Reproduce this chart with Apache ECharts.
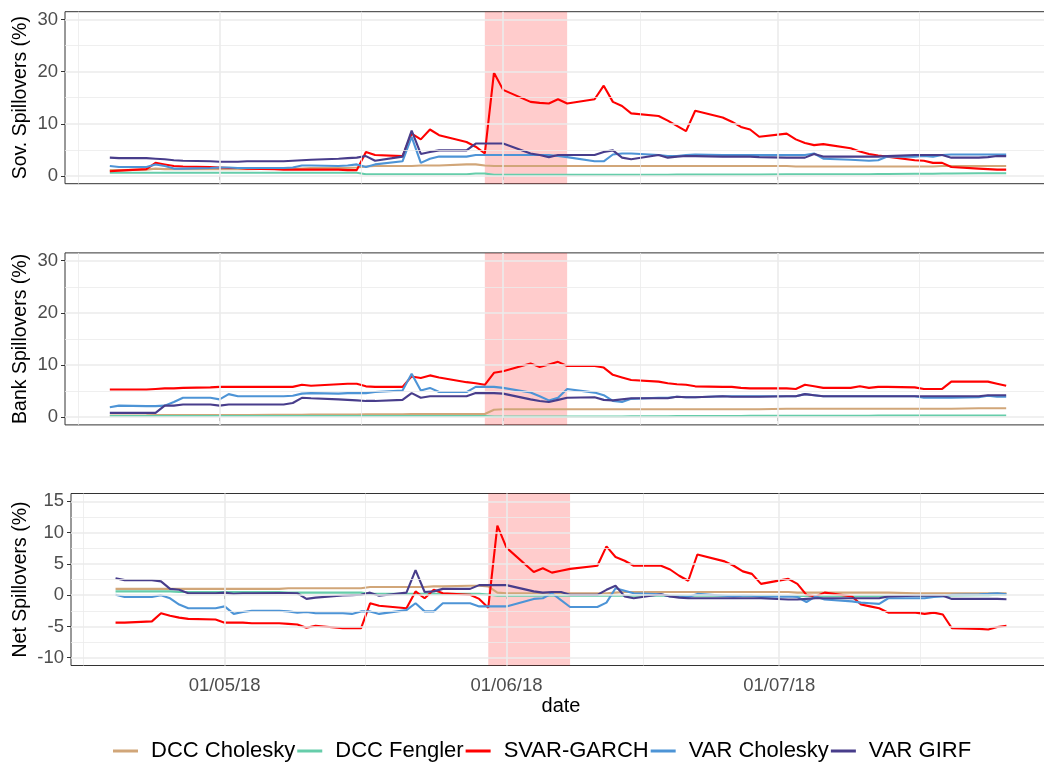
<!DOCTYPE html>
<html>
<head>
<meta charset="utf-8">
<title>Spillovers</title>
<script src="https://cdn.jsdelivr.net/npm/echarts@6/dist/echarts.min.js"></script>
<style>
  html, body { margin: 0; padding: 0; background: #fff; overflow: hidden; }
  #chart { width: 1044px; height: 762px; }
</style>
</head>
<body>
<div id="chart"></div>
<script>
// trading days of the sample
const dates = [
  '2018-04-19', '2018-04-20', '2018-04-23', '2018-04-24', '2018-04-25', '2018-04-26', '2018-04-27', '2018-04-30', '2018-05-01', '2018-05-02',
  '2018-05-03', '2018-05-04', '2018-05-07', '2018-05-08', '2018-05-09', '2018-05-10', '2018-05-11', '2018-05-14', '2018-05-15', '2018-05-16',
  '2018-05-17', '2018-05-18', '2018-05-21', '2018-05-22', '2018-05-23', '2018-05-24', '2018-05-25', '2018-05-28', '2018-05-29', '2018-05-30',
  '2018-05-31', '2018-06-01', '2018-06-04', '2018-06-05', '2018-06-06', '2018-06-07', '2018-06-08', '2018-06-11', '2018-06-12', '2018-06-13',
  '2018-06-14', '2018-06-15', '2018-06-18', '2018-06-19', '2018-06-20', '2018-06-21', '2018-06-22', '2018-06-25', '2018-06-26', '2018-06-27',
  '2018-06-28', '2018-06-29', '2018-07-02', '2018-07-03', '2018-07-04', '2018-07-05', '2018-07-06', '2018-07-09', '2018-07-10', '2018-07-11',
  '2018-07-12', '2018-07-13', '2018-07-16', '2018-07-17', '2018-07-18', '2018-07-19', '2018-07-20', '2018-07-23', '2018-07-24', '2018-07-25',
  '2018-07-26'
]

const methods = ['DCC Cholesky', 'DCC Fengler', 'SVAR-GARCH', 'VAR Cholesky', 'VAR GIRF']

// Sov. spillovers (%)
const sovDccCholesky = [
  1.1, 1.1, 1.2, 1.4, 1.3, 1.3, 1.3, 1.3, 1.3, 1.3,
  1.3, 1.3, 1.4, 1.4, 1.4, 1.4, 1.5, 1.5, 1.5, 1.6,
  1.8, 1.9, 1.9, 1.9, 2.0, 2.0, 2.0, 2.2, 2.2, 2.0,
  1.9, 1.9, 1.9, 1.9, 1.9, 1.9, 1.9, 1.9, 1.9, 1.9,
  1.9, 1.9, 1.9, 1.9, 1.9, 1.9, 1.9, 1.9, 1.9, 1.9,
  1.9, 1.9, 1.9, 1.8, 1.8, 1.8, 1.8, 1.8, 1.8, 1.8,
  1.8, 1.8, 1.8, 1.8, 1.8, 1.9, 1.9, 1.9, 1.9, 1.9, 1.9
]
const sovDccFengler = [
  0.6, 0.6, 0.6, 0.6, 0.6, 0.6, 0.6, 0.6, 0.6, 0.6,
  0.6, 0.6, 0.6, 0.6, 0.6, 0.6, 0.6, 0.6, 0.6, 0.6,
  0.3, 0.3, 0.3, 0.3, 0.3, 0.3, 0.3, 0.3, 0.45, 0.45,
  0.2, 0.2, 0.2, 0.2, 0.2, 0.2, 0.2, 0.2, 0.2, 0.2,
  0.2, 0.2, 0.2, 0.2, 0.25, 0.25, 0.25, 0.25, 0.25, 0.25,
  0.25, 0.25, 0.3, 0.3, 0.3, 0.3, 0.3, 0.3, 0.3, 0.3,
  0.35, 0.35, 0.4, 0.4, 0.4, 0.45, 0.45, 0.5, 0.5, 0.5, 0.5
]
const sovSvarGarch = [
  0.9, 1.0, 1.3, 2.5, 2.2, 1.9, 1.8, 1.7, 1.6, 1.5,
  1.5, 1.4, 1.3, 1.2, 1.2, 1.2, 1.2, 1.2, 1.1, 1.1,
  4.6, 4.0, 3.8, 8.1, 7.0, 8.9, 7.8, 6.5, 5.6, 4.3,
  19.8, 16.5, 14.2, 14.0, 13.9, 14.7, 13.9, 14.7, 17.3, 14.2,
  13.4, 12.0, 11.5, 10.6, 9.6, 8.6, 12.5, 11.2, 10.4, 9.4,
  8.9, 7.5, 8.1, 7.0, 6.3, 5.9, 6.1, 5.3, 4.7, 4.2,
  3.9, 3.7, 3.0, 2.9, 2.5, 2.5, 1.7, 1.4, 1.3, 1.2, 1.2
]
const sovVarCholesky = [
  1.9, 1.7, 1.7, 2.2, 1.9, 1.4, 1.4, 1.5, 1.6, 1.6,
  1.5, 1.5, 1.5, 1.5, 1.6, 2.0, 2.0, 1.9, 2.0, 2.2,
  1.7, 2.2, 2.8, 7.5, 2.5, 3.3, 3.7, 3.7, 4.0, 4.0,
  4.0, 4.0, 4.0, 4.0, 4.0, 3.8, 3.6, 2.8, 2.8, 4.1,
  4.3, 4.3, 4.0, 3.8, 3.8, 4.0, 4.1, 4.0, 4.0, 4.0,
  4.0, 4.0, 4.0, 4.0, 4.0, 4.3, 3.3, 3.1, 3.0, 2.9,
  3.0, 3.7, 3.7, 3.8, 3.7, 4.0, 4.1, 4.1, 4.1, 4.1, 4.1
]
const sovVarGirf = [
  3.5, 3.4, 3.4, 3.3, 3.2, 3.0, 2.9, 2.8, 2.7, 2.7,
  2.7, 2.8, 2.8, 2.8, 2.9, 3.0, 3.1, 3.3, 3.4, 3.5,
  3.8, 2.9, 3.7, 8.7, 4.2, 4.6, 4.9, 4.9, 6.2, 6.2,
  6.2, 6.2, 4.3, 4.0, 3.6, 4.0, 4.0, 4.0, 4.6, 4.9,
  3.5, 3.2, 4.0, 3.5, 3.7, 3.8, 3.8, 3.7, 3.7, 3.7,
  3.7, 3.6, 3.5, 3.5, 3.5, 4.2, 3.7, 3.7, 3.7, 3.7,
  3.7, 3.8, 4.0, 4.0, 4.0, 4.0, 3.5, 3.5, 3.6, 3.8, 3.8
]

// Bank spillovers (%)
const bankDccCholesky = [
  0.3, 0.3, 0.35, 0.4, 0.4, 0.4, 0.4, 0.4, 0.4, 0.4,
  0.4, 0.4, 0.45, 0.45, 0.45, 0.45, 0.5, 0.5, 0.5, 0.5,
  0.55, 0.55, 0.55, 0.6, 0.6, 0.6, 0.6, 0.6, 0.6, 0.6,
  1.4, 1.5, 1.5, 1.5, 1.5, 1.5, 1.5, 1.5, 1.5, 1.5,
  1.5, 1.5, 1.5, 1.5, 1.5, 1.5, 1.5, 1.5, 1.5, 1.5,
  1.5, 1.5, 1.6, 1.6, 1.6, 1.6, 1.6, 1.6, 1.6, 1.6,
  1.6, 1.6, 1.6, 1.6, 1.6, 1.6, 1.6, 1.7, 1.7, 1.7, 1.7
]
const bankDccFengler = [
  0.2, 0.2, 0.2, 0.2, 0.2, 0.2, 0.2, 0.2, 0.2, 0.2,
  0.2, 0.2, 0.2, 0.2, 0.2, 0.2, 0.2, 0.2, 0.2, 0.2,
  0.2, 0.2, 0.2, 0.2, 0.2, 0.2, 0.2, 0.2, 0.2, 0.2,
  0.1, 0.1, 0.1, 0.1, 0.1, 0.1, 0.1, 0.1, 0.1, 0.1,
  0.1, 0.15, 0.15, 0.15, 0.2, 0.2, 0.2, 0.2, 0.2, 0.2,
  0.25, 0.25, 0.25, 0.25, 0.25, 0.25, 0.25, 0.25, 0.25, 0.25,
  0.3, 0.3, 0.3, 0.3, 0.3, 0.3, 0.3, 0.3, 0.3, 0.3, 0.3
]
const bankSvarGarch = [
  5.3, 5.3, 5.3, 5.4, 5.5, 5.5, 5.6, 5.7, 5.8, 5.8,
  5.8, 5.8, 5.8, 5.8, 5.8, 6.2, 6.0, 6.3, 6.4, 6.4,
  5.9, 5.8, 5.8, 7.8, 7.5, 8.0, 7.6, 6.7, 6.5, 6.2,
  8.5, 8.8, 10.3, 9.6, 10.1, 10.6, 9.8, 9.8, 9.5, 8.1,
  7.6, 7.1, 6.8, 6.5, 6.3, 6.2, 5.9, 5.8, 5.8, 5.6,
  5.5, 5.5, 5.5, 5.4, 6.2, 5.9, 5.6, 5.6, 5.9, 5.6,
  5.8, 5.8, 5.7, 5.4, 5.4, 5.4, 6.8, 6.8, 6.8, 6.4, 6.0
]
const bankVarCholesky = [
  1.9, 2.2, 2.1, 2.1, 2.2, 2.9, 3.7, 3.7, 3.4, 4.4,
  4.0, 4.0, 4.0, 4.0, 4.1, 4.5, 4.6, 4.5, 4.6, 4.6,
  4.6, 4.8, 5.1, 8.3, 5.1, 5.6, 4.8, 4.8, 5.8, 5.8,
  5.8, 5.6, 4.7, 4.0, 3.2, 3.7, 5.4, 4.7, 4.2, 3.1,
  2.9, 3.5, 3.7, 3.7, 3.9, 3.8, 3.8, 4.0, 4.0, 4.0,
  4.0, 4.0, 4.0, 4.0, 4.4, 4.2, 4.0, 4.0, 4.0, 4.0,
  4.0, 4.0, 4.0, 3.7, 3.7, 3.7, 3.7, 3.8, 4.1, 3.9, 3.9
]
const bankVarGirf = [
  0.8, 0.8, 0.8, 0.8, 2.2, 2.2, 2.4, 2.4, 2.2, 2.4,
  2.4, 2.4, 2.4, 2.4, 2.7, 3.7, 3.6, 3.4, 3.3, 3.2,
  3.1, 3.1, 3.3, 4.6, 3.7, 4.0, 4.0, 4.0, 4.6, 4.6,
  4.6, 4.5, 3.4, 3.1, 2.9, 3.3, 3.7, 3.8, 3.3, 3.2,
  3.4, 3.6, 3.6, 3.6, 3.9, 3.8, 3.8, 4.0, 3.9, 3.9,
  3.9, 3.9, 4.0, 4.0, 4.4, 4.2, 4.0, 4.0, 4.0, 4.0,
  4.0, 4.0, 4.0, 4.0, 4.0, 4.0, 4.0, 4.0, 4.2, 4.2, 4.2
]

// Net spillovers (%)
const netDccCholesky = [
  1.0, 1.0, 1.0, 1.0, 1.0, 1.0, 1.0, 1.0, 1.0, 1.0,
  1.0, 1.0, 1.0, 1.1, 1.1, 1.1, 1.1, 1.1, 1.1, 1.1,
  1.3, 1.3, 1.3, 1.3, 1.3, 1.4, 1.4, 1.5, 1.5, 1.4,
  0.4, 0.3, 0.3, 0.3, 0.3, 0.3, 0.3, 0.3, 0.3, 0.4,
  0.5, 0.5, 0.5, 0.5, 0.5, 0.5, 0.5, 0.5, 0.5, 0.5,
  0.5, 0.5, 0.5, 0.4, 0.4, 0.4, 0.4, 0.4, 0.4, 0.4,
  0.4, 0.4, 0.3, 0.3, 0.3, 0.3, 0.3, 0.3, 0.3, 0.3, 0.3
]
const netDccFengler = [
  0.6, 0.6, 0.6, 0.6, 0.6, 0.5, 0.5, 0.5, 0.5, 0.5,
  0.5, 0.5, 0.5, 0.4, 0.4, 0.4, 0.4, 0.4, 0.4, 0.4,
  0.2, 0.2, 0.2, 0.2, 0.2, 0.2, 0.2, 0.2, 0.2, 0.1,
  -0.1, -0.1, -0.1, -0.1, -0.1, -0.1, -0.1, -0.1, -0.1, -0.1,
  -0.1, -0.1, -0.1, -0.1, -0.1, -0.1, -0.1, -0.1, -0.1, -0.1,
  -0.15, -0.15, -0.15, -0.15, -0.15, -0.15, -0.15, -0.15, -0.15, -0.15,
  -0.15, -0.15, -0.1, -0.1, -0.1, -0.1, -0.05, 0.0, 0.0, 0.05, 0.05
]
const netSvarGarch = [
  -4.4, -4.4, -4.2, -2.9, -3.3, -3.6, -3.8, -3.9, -4.4, -4.4,
  -4.4, -4.5, -4.5, -4.6, -4.7, -5.2, -4.9, -5.3, -5.3, -5.3,
  -1.3, -1.7, -2.1, 0.6, -0.5, 0.85, 0.3, 0.05, -0.6, -2.0,
  11.1, 7.6, 3.7, 4.3, 3.6, 3.9, 4.2, 4.7, 7.8, 6.1,
  5.5, 4.7, 4.7, 4.1, 3.1, 2.3, 6.5, 5.4, 4.7, 3.8,
  3.4, 1.8, 2.6, 1.8, 0.05, -0.2, 0.4, -0.2, -1.5, -1.8,
  -2.1, -2.8, -2.8, -3.0, -2.8, -3.1, -5.3, -5.4, -5.5, -5.1, -4.9
]
const netVarCholesky = [
  0.05, -0.3, -0.3, 0.0, -0.5, -1.5, -2.1, -2.1, -1.8, -3.0,
  -2.7, -2.5, -2.5, -2.6, -2.8, -2.7, -2.9, -2.9, -3.0, -2.6,
  -2.6, -3.0, -2.4, -1.3, -2.6, -2.6, -1.3, -1.3, -1.8, -1.8,
  -1.8, -1.8, -0.6, -0.5, 0.3, -0.8, -1.9, -1.9, -1.2, 1.1,
  0.7, 0.3, 0.15, -0.2, -0.2, -0.3, 0.2, -0.1, -0.2, -0.1,
  -0.1, -0.3, -0.2, -0.3, -1.1, -0.2, -0.7, -1.0, -1.2, -1.3,
  -1.4, -0.5, -0.5, -0.5, -0.3, -0.2, 0.05, 0.15, 0.2, 0.3, 0.15
]
const netVarGirf = [
  2.7, 2.4, 2.4, 2.2, 1.0, 0.85, 0.3, 0.3, 0.4, 0.2,
  0.3, 0.3, 0.35, 0.35, 0.3, -0.6, -0.4, -0.05, 0.0, 0.05,
  0.4, -0.1, 0.4, 4.0, 0.5, 0.6, 1.0, 1.0, 1.6, 1.6,
  1.6, 1.6, 0.6, 0.4, 0.5, 0.5, 0.05, 0.05, 0.85, 1.5,
  -0.2, -0.5, 0.15, -0.2, -0.4, -0.5, -0.5, -0.5, -0.5, -0.5,
  -0.5, -0.5, -0.7, -0.7, -0.6, -0.5, -0.5, -0.5, -0.5, -0.5,
  -0.5, -0.2, -0.1, -0.1, -0.1, -0.1, -0.6, -0.6, -0.6, -0.6, -0.65
]

// shaded episode
const shadeFrom = '2018-05-30'
const shadeTo = '2018-06-08'

// axis breaks
const xMajorBreaks = ['2018-05-01', '2018-06-01', '2018-07-01']
const xMinorBreaks = [['2018-04-15', 12], ['2018-05-16', 12], ['2018-06-16', 0], ['2018-07-16', 12]]
const spillBreaks = [0, 10, 20, 30]
const spillMinor = [5, 15, 25]
const netBreaks = [-10, -5, 0, 5, 10, 15]
const netMinor = [-7.5, -2.5, 2.5, 7.5, 12.5]

const colors = ['#D1A679', '#66CDAA', '#FF0000', '#4D94D6', '#483D8B']
const fontFamily = 'Liberation Sans, Arial, sans-serif'

function day(s, h = 0) {
  const [y, m, d] = s.split('-').map(Number)
  return Date.UTC(y, m - 1, d, h)
}

function fmtDate(v) {
  const d = new Date(v)
  const p = n => String(n).padStart(2, '0')
  return p(d.getUTCDate()) + '/' + p(d.getUTCMonth() + 1) + '/' + p(d.getUTCFullYear() % 100)
}

// ggplot-like 5% expansion of the date range
const firstDay = day(dates[0])
const lastDay = day(dates[dates.length - 1])
const xMin = firstDay - 0.05 * (lastDay - firstDay)
const xMax = lastDay + 0.05 * (lastDay - firstDay)

const panels = [
  {
    title: 'Sov. Spillovers (%)', left: 65, top: 11.7, width: 986, nameGap: 34,
    yMin: -1.5, yMax: 31.5, breaks: spillBreaks, minor: spillMinor,
    values: [sovDccCholesky, sovDccFengler, sovSvarGarch, sovVarCholesky, sovVarGirf]
  },
  {
    title: 'Bank Spillovers (%)', left: 65, top: 252.9, width: 986, nameGap: 34,
    yMin: -1.5, yMax: 31.5, breaks: spillBreaks, minor: spillMinor,
    values: [bankDccCholesky, bankDccFengler, bankSvarGarch, bankVarCholesky, bankVarGirf]
  },
  {
    title: 'Net Spillovers (%)', left: 71, top: 493.5, width: 980, nameGap: 40,
    yMin: -11.25, yMax: 16.25, breaks: netBreaks, minor: netMinor,
    values: [netDccCholesky, netDccFengler, netSvarGarch, netVarCholesky, netVarGirf]
  }
]

const grid = []
const xAxis = []
const yAxis = []
const series = []

const majorStyle = { color: '#EBEBEB', width: 1.6, type: 'solid' }
const minorStyle = { color: '#EBEBEB', width: 0.8, type: 'solid' }

panels.forEach((p, k) => {
  const isLast = k === panels.length - 1
  grid.push({
    left: p.left, top: p.top, width: p.width, height: 172,
    show: true, borderColor: '#333333', borderWidth: 1,
    outerBoundsMode: 'none'
  })
  xAxis.push({
    gridIndex: k,
    type: 'value',
    min: xMin,
    max: xMax,
    axisLine: { show: false },
    splitLine: { show: false },
    axisTick: {
      show: true, customValues: xMajorBreaks.map(d => day(d)), length: 4,
      lineStyle: { color: '#333333', width: 1 }
    },
    axisLabel: {
      show: isLast, customValues: xMajorBreaks.map(d => day(d)), formatter: fmtDate,
      color: '#4D4D4D', fontSize: 18.5, margin: 11, fontFamily
    },
    name: isLast ? 'date' : '',
    nameLocation: 'middle',
    nameGap: 31,
    nameMoveOverlap: false,
    nameTextStyle: { color: '#000', fontSize: 20, fontFamily }
  })
  yAxis.push({
    gridIndex: k,
    type: 'value',
    min: p.yMin,
    max: p.yMax,
    axisLine: { show: false },
    splitLine: { show: false },
    axisTick: {
      show: true, customValues: p.breaks, length: 4,
      lineStyle: { color: '#333333', width: 1 }
    },
    axisLabel: {
      customValues: p.breaks, color: '#4D4D4D', fontSize: 18.5, margin: 7, fontFamily
    },
    name: p.title,
    nameLocation: 'middle',
    nameGap: p.nameGap,
    nameMoveOverlap: false,
    nameTextStyle: { color: '#000', fontSize: 19.5, fontFamily }
  })

  // panel grid lines
  series.push({
    type: 'line',
    xAxisIndex: k,
    yAxisIndex: k,
    data: [],
    z: 1,
    silent: true,
    markLine: {
      silent: true,
      symbol: 'none',
      label: { show: false },
      emphasis: { disabled: true },
      animation: false,
      data: [
        ...p.minor.map(v => ({ yAxis: v, lineStyle: minorStyle })),
        ...xMinorBreaks.map(([d, h]) => ({ xAxis: day(d, h), lineStyle: minorStyle })),
        ...p.breaks.map(v => ({ yAxis: v, lineStyle: majorStyle })),
        ...xMajorBreaks.map(d => ({ xAxis: day(d), lineStyle: majorStyle }))
      ]
    }
  })

  methods.forEach((name, j) => {
    series.push({
      name,
      type: 'line',
      xAxisIndex: k,
      yAxisIndex: k,
      data: dates.map((d, i) => [day(d), p.values[j][i]]),
      symbol: 'none',
      showSymbol: false,
      z: 2,
      lineStyle: { width: 2.1, color: colors[j] },
      itemStyle: { color: colors[j] }
    })
  })

  // shaded episode drawn over the lines
  series.push({
    type: 'line',
    xAxisIndex: k,
    yAxisIndex: k,
    data: [],
    z: 5,
    silent: true,
    markArea: {
      silent: true,
      itemStyle: { color: 'rgba(255, 0, 0, 0.2)' },
      emphasis: { disabled: true },
      data: [[{ xAxis: day(shadeFrom) }, { xAxis: day(shadeTo) }]]
    }
  })
})

const chart = echarts.init(document.getElementById('chart'), null, { renderer: 'canvas' })
chart.setOption({
  animation: false,
  backgroundColor: '#ffffff',
  textStyle: { fontFamily },
  legend: {
    data: methods,
    left: 108,
    top: 735,
    icon: 'rect',
    itemWidth: 25,
    itemHeight: 3,
    itemGap: 2,
    selectedMode: false,
    textStyle: { color: '#000', fontSize: 22, fontFamily, padding: [0, 0, 0, 8] }
  },
  grid,
  xAxis,
  yAxis,
  series
})
</script>
</body>
</html>
